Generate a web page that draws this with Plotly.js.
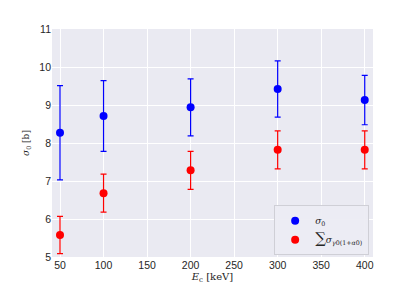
<!DOCTYPE html>
<html>
<head>
<meta charset="utf-8">
<script src="https://cdn.plot.ly/plotly-3.0.1.min.js"></script>
<style>html,body{margin:0;padding:0;background:#fff;}#chart{width:415px;height:286px;}</style>
</head>
<body>
<div id="chart"></div>
<script>
const energies = [50, 100, 200, 300, 400];
const sigma0 = [8.27, 8.71, 8.94, 9.42, 9.13];
const sigma0Err = [1.24, 0.93, 0.75, 0.74, 0.65];
const sigmaSum = [5.58, 6.68, 7.28, 7.82, 7.82];
const sigmaSumErr = [0.49, 0.50, 0.50, 0.50, 0.50];
const xTicks = [50, 100, 150, 200, 250, 300, 350, 400];
const yTicks = [5, 6, 7, 8, 9, 10, 11];

const traces = [
  {
    x: energies, y: sigma0, type: 'scatter', mode: 'markers',
    name: '<i>σ</i><sub>0</sub>',
    marker: {color: '#0000ff', size: 8},
    error_y: {type: 'data', array: sigma0Err, visible: true, color: '#0000ff', thickness: 1.2, width: 3}
  },
  {
    x: energies, y: sigmaSum, type: 'scatter', mode: 'markers',
    name: '<span style="font-size:15px">∑</span><i>σ</i><sub><i>γ</i>0(1+<i>α</i>0)</sub>',
    marker: {color: '#ff0000', size: 8},
    error_y: {type: 'data', array: sigmaSumErr, visible: true, color: '#ff0000', thickness: 1.2, width: 3}
  }
];

const layout = {
  width: 415, height: 286,
  margin: {l: 52, r: 42, t: 29, b: 29},
  paper_bgcolor: '#ffffff',
  plot_bgcolor: '#EAEAF2',
  font: {family: 'Liberation Sans, Arial, sans-serif', size: 10, color: '#262626'},
  showlegend: true,
  legend: {
    x: 0.988, y: 0.008, xanchor: 'right', yanchor: 'bottom',
    bgcolor: 'rgba(236,236,243,0.95)', bordercolor: '#cfcfd6', borderwidth: 1,
    font: {size: 9, family: 'DejaVu Serif, serif', color: '#262626'},
    tracegroupgap: 2, itemwidth: 30
  },
  xaxis: {
    range: [40.8, 409.5],
    tickvals: xTicks, ticktext: xTicks.map(String),
    showgrid: true, gridcolor: '#ffffff', gridwidth: 1,
    zeroline: false, showline: false, ticks: '',
    tickfont: {size: 10.5, color: '#262626'},
    title: {text: '<i>E</i><sub>c</sub> [keV]', font: {size: 10, family: 'DejaVu Serif, serif', color: '#262626'}, standoff: 3}
  },
  yaxis: {
    range: [5, 11],
    tickvals: yTicks, ticktext: yTicks.map(String),
    showgrid: true, gridcolor: '#ffffff', gridwidth: 1,
    zeroline: false, showline: false, ticks: '',
    tickfont: {size: 10.5, color: '#262626'},
    title: {text: '<i>σ</i><sub>0</sub> [b]', font: {size: 9, family: 'DejaVu Serif, serif', color: '#262626'}, standoff: 8}
  }
};

Plotly.newPlot('chart', traces, layout, {displayModeBar: false, staticPlot: true});
</script>
</body>
</html>
